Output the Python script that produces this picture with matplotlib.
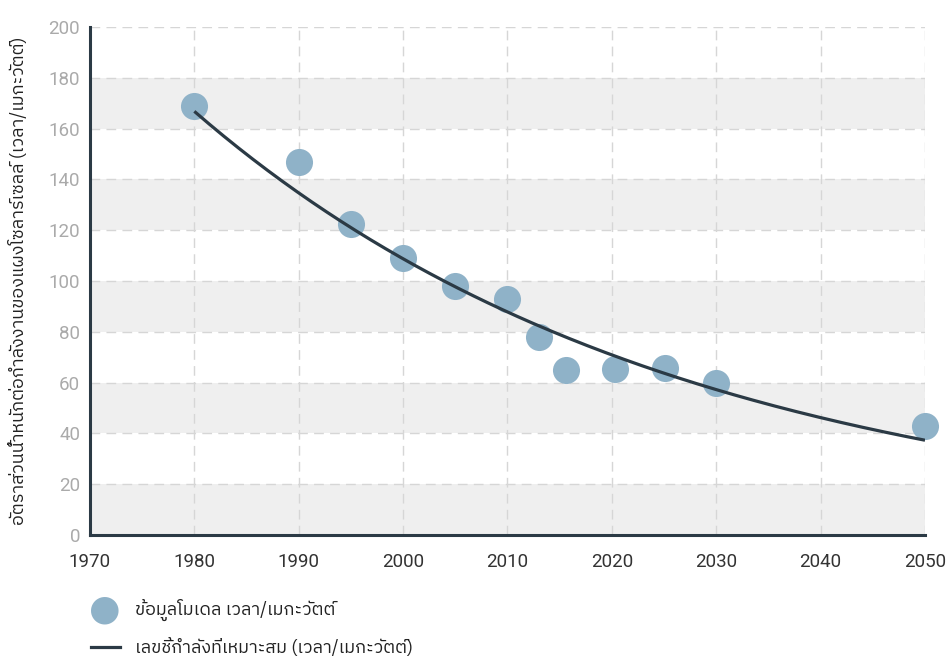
import numpy as np
import matplotlib
matplotlib.use("Agg")
import matplotlib.pyplot as plt
from matplotlib import font_manager, ft2font

# scatter data
years = [1980, 1990, 1995, 2000, 2005, 2010, 2013, 2015.6, 2020.3, 2025.1, 2030, 2050]
ratio = [169, 147, 122.4, 109, 98, 93, 78, 65, 65.4, 65.7, 60, 43]

# best-fit curve read at each decade
fit_years = [1980, 1990, 2000, 2010, 2020, 2030, 2040, 2050]
fit_vals = [167, 134.5, 108.5, 88, 71, 57.5, 46, 37.4]

xticks = [1970, 1980, 1990, 2000, 2010, 2020, 2030, 2040, 2050]
yticks = [0, 20, 40, 60, 80, 100, 120, 140, 160, 180, 200]

ylabel = "อัตราส่วนน้ำหนักต่อกำลังงานของแผงโซลาร์เซลล์ (เวลา/เมกะวัตต์)"
leg_points = "ข้อมูลโมเดล เวลา/เมกะวัตต์"
leg_line = "เลขชี้กำลังที่เหมาะสม (เวลา/เมกะวัตต์)"

# look for any installed family with Thai glyphs
thai = []
for f in font_manager.fontManager.ttflist:
    try:
        cmap = ft2font.FT2Font(f.fname).get_charmap()
    except Exception:
        continue
    if 0x0E01 in cmap and 0x0E49 in cmap and f.name not in thai:
        thai.append(f.name)
thai.sort(key=lambda n: (0 if "Thai" in n else 1, n))

fams = thai + ["Roboto", "DejaVu Sans"]
plt.rcParams["font.family"] = fams

dark = "#2b3a45"
blue = "#8fb2c8"

fig = plt.figure(figsize=(9.46, 6.59), dpi=100)
ax = fig.add_axes([0.0951, 0.188, 0.8827, 0.771])

# alternating bands
for i, lo in enumerate(yticks[:-1]):
    if i % 2 == 0:
        ax.axhspan(lo, lo + 20, color="#efefef", lw=0, zorder=0)

for y in yticks[1:]:
    ax.axhline(y, color="#d6d6d6", lw=1, ls=(0, (7, 4.5)), zorder=1)
for x in xticks[1:]:
    ax.axvline(x, color="#d6d6d6", lw=1, ls=(0, (7, 4.5)), zorder=1)

ax.scatter(years, ratio, s=380, color=blue, lw=0, zorder=3, clip_on=False)

b, a = np.polyfit(fit_years, np.log(fit_vals), 1)
xx = np.linspace(1980, 2050, 200)
ax.plot(xx, np.exp(a + b * xx), color=dark, lw=2.3, zorder=4, solid_capstyle="butt")

ax.set_xlim(1970, 2050)
ax.set_ylim(0, 200)
ax.set_xticks(xticks)
ax.set_yticks(yticks)
ax.tick_params(axis="x", length=0, pad=13, labelsize=13.5, labelcolor="#333333")
ax.tick_params(axis="y", length=0, pad=7, labelsize=13.5, labelcolor="#aaaaaa")
for lbl in ax.get_xticklabels() + ax.get_yticklabels():
    lbl.set_family(["Roboto", "DejaVu Sans"])

for s in ["top", "right"]:
    ax.spines[s].set_visible(False)
for s in ["left", "bottom"]:
    ax.spines[s].set_color(dark)
    ax.spines[s].set_linewidth(2.2)
    ax.spines[s].set_zorder(5)

ax.set_ylabel(ylabel, fontsize=13, color="#222222", labelpad=15)

# legend below the plot
y1, y2 = 1 - 610 / 659, 1 - 647 / 659
fig.text(0.111, y1, "●", fontsize=26, color=blue, ha="center", va="center",
         family=["DejaVu Sans"])
fig.lines.append(plt.Line2D([0.096, 0.127], [y2, y2], transform=fig.transFigure,
                            color=dark, lw=2.3))
fig.text(0.143, y1, leg_points, fontsize=13, color="#222222", va="center")
fig.text(0.143, y2, leg_line, fontsize=13, color="#222222", va="center")

fig.savefig("out.png", dpi=100)
